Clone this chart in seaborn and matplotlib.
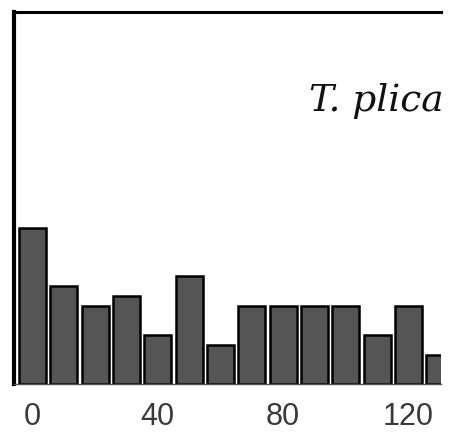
import pandas as pd
import matplotlib.pyplot as plt
import seaborn as sns

# bin start and counts
bins = [0, 10, 20, 30, 40, 50, 60, 70, 80, 90, 100, 110, 120, 130]
counts = [16, 10, 8, 9, 5, 11, 4, 8, 8, 8, 8, 5, 8, 3]
tick_vals = [0, 40, 80, 120]
label = "T. plica"

df = pd.DataFrame({"bin": bins, "count": counts})

sns.set_style("white")
fig = plt.figure(figsize=(4.58, 4.36), dpi=100)
ax = fig.add_axes([0.031, 0.119, 0.932, 0.853])

sns.barplot(data=df, x="bin", y="count", native_scale=True, width=0.86,
            color="#555555", saturation=1, edgecolor="black", linewidth=1.8, ax=ax)

ax.set_xlim(-5.8, 130.4)
ax.set_ylim(0, 38)
ax.set_xticks(tick_vals)
ax.set_xticklabels([str(t) for t in tick_vals], family="Liberation Sans",
                   fontsize=22, color="#3a3a3a")
ax.tick_params(axis="x", length=0, pad=13)
ax.set_yticks([])
ax.set_xlabel("")
ax.set_ylabel("")

ax.spines["right"].set_visible(False)
ax.spines["left"].set_linewidth(3)
ax.spines["left"].set_color("black")
ax.spines["top"].set_linewidth(2.2)
ax.spines["top"].set_color("black")
ax.spines["bottom"].set_linewidth(1)
ax.spines["bottom"].set_color("#555555")

ax.text(1.006, 0.76, label, transform=ax.transAxes, ha="right", va="center",
        family="DejaVu Serif", style="italic", fontsize=27, color="#111111")

fig.savefig("out.png", dpi=100)
